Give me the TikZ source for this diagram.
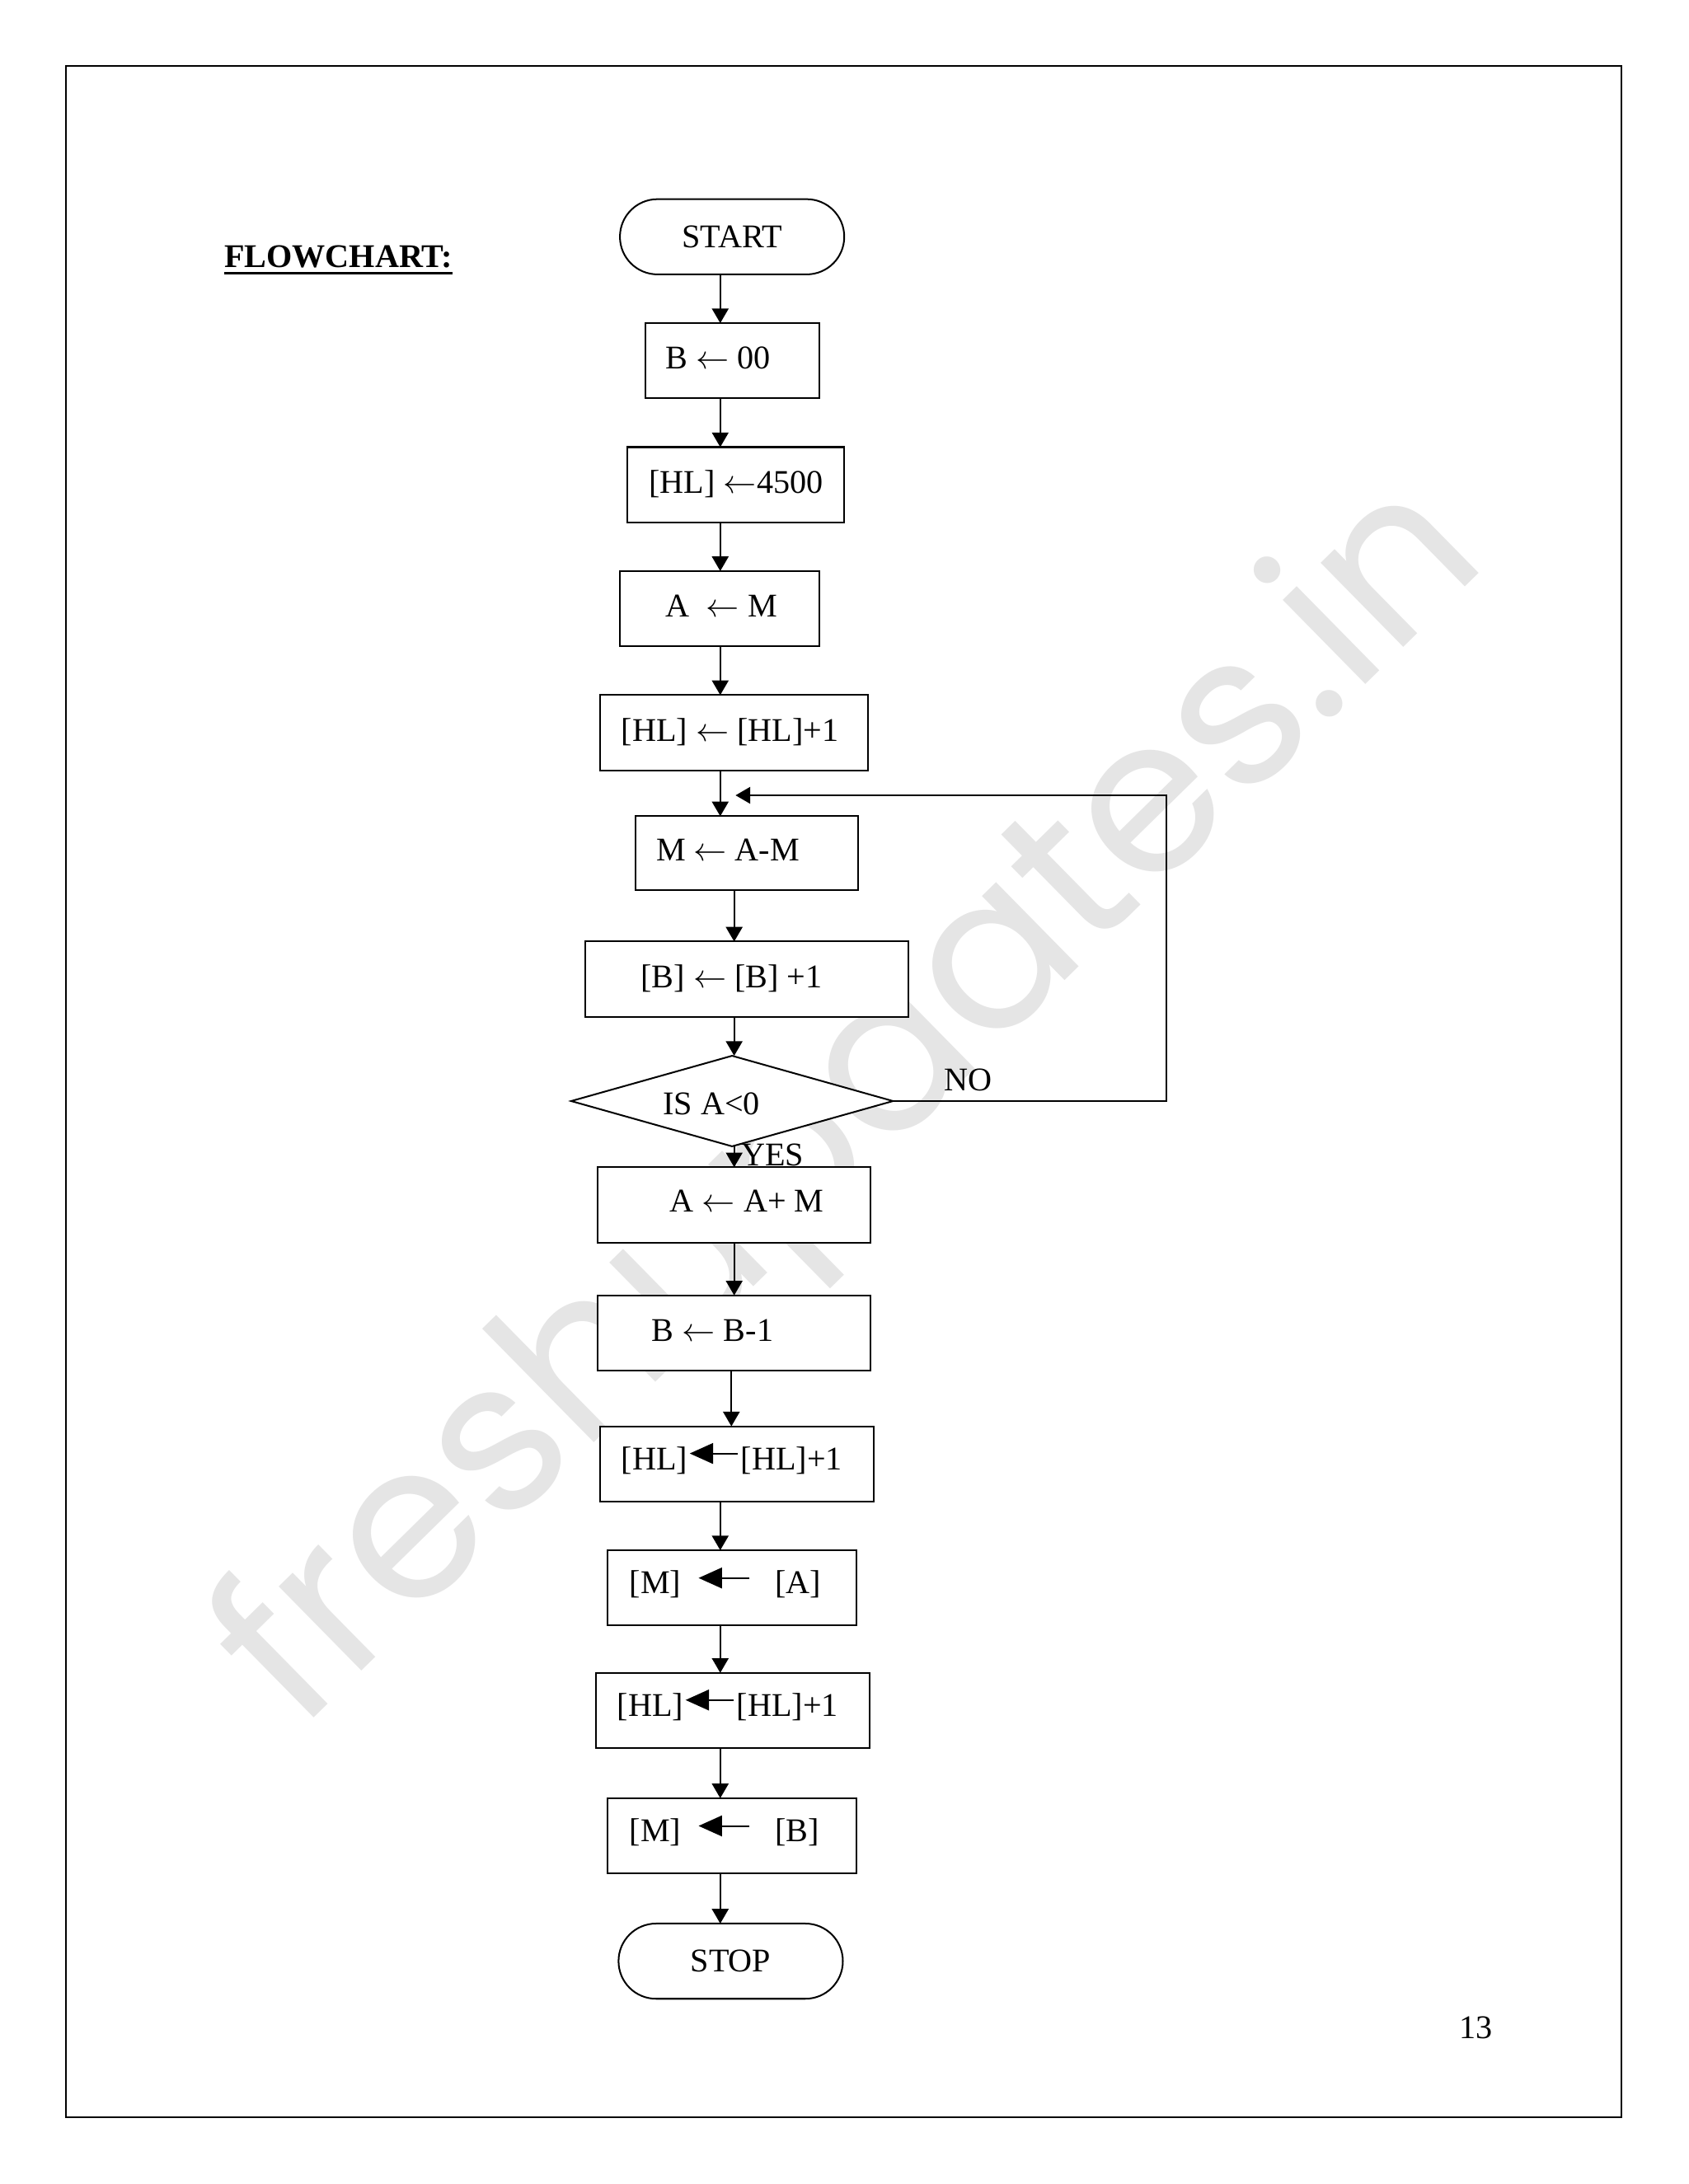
\documentclass[tikz,border=0pt]{standalone}
\usepackage{fontspec}
\setmainfont{Liberation Serif}
\newfontfamily\wmfont{Poppins}
\usetikzlibrary{arrows.meta,shapes.geometric}

\newcommand{\fatarr}[4]{\hspace{#1}\tikz[baseline=0pt]{\draw[line width=0.6pt,-{Triangle[length=8.5pt,width=7.5pt]}] (#2,#4) -- (0pt,#4);}\hspace{#3}}
\newcommand{\thickul}[1]{\begingroup\setbox0\hbox{#1}\rlap{\rule[-2.4pt]{\wd0}{0.85pt}}\box0\endgroup}
\newcommand{\bx}[5]{\node[box, minimum width={(#4-#2)*0.50495pt}, minimum height={(#5-#3)*0.50495pt}] (#1) at ({(#2+#4)/2},{(#3+#5)/2}) {};}

\begin{document}
\begin{tikzpicture}[x=0.50495pt,y=-0.50495pt,
  font=\fontsize{12}{14}\selectfont, line width=0.6pt,
  box/.style={draw, fill=white, inner sep=0pt, outer sep=0pt},
  term/.style={box, rounded corners=13.6pt},
  arr/.style={-{Triangle[length=5.3pt,width=6pt]}},
  txt/.style={anchor=base west, inner sep=0pt, outer sep=0pt}]

\fill[white] (0,0) rectangle (1212,1568);
\useasboundingbox (0,0) rectangle (1212,1568);

% page frame
\node[draw, line width=0.6pt, inner sep=0pt, outer sep=0pt,
  minimum width={1116.5*0.50495pt}, minimum height={1472.5*0.50495pt}] (frame) at (605.75,783.75) {};

% watermark
\node[rotate=44.5, text=black!10, inner sep=0pt, font=\wmfont\fontsize{78}{78}\selectfont] (wm) at (615,796) {freshupdates.in};

% title and page number
\node[txt, font=\bfseries\fontsize{12}{14}\selectfont] (title) at (161,192) {\thickul{FLOWCHART:}};
\node[txt] (pagenum) at (1047.5,1463.5) {13};

% shapes
\node[term, minimum width={161*0.50495pt}, minimum height={54*0.50495pt}] (start) at (525.5,170) {START};
\bx{b00}{463}{232}{588}{286}
\bx{hl}{450}{321}{606}{375}
\bx{am}{445}{410}{588}{464}
\bx{hlinc}{431}{499}{623}{553}
\bx{mam}{456}{586}{616}{639}
\bx{binc}{420}{676}{652}{730}
\node[draw, fill=white, diamond, inner sep=0pt, outer sep=0pt,
  minimum width={231*0.50495pt}, minimum height={65*0.50495pt}] (dia) at (525.5,790.5) {};
\bx{aam}{429}{838}{625}{892}
\bx{bdec}{429}{930}{625}{984}
\bx{hlb}{431}{1024}{627}{1078}
\bx{ma}{436}{1113}{615}{1167}
\bx{hlc}{428}{1201}{624}{1255}
\bx{mb}{436}{1291}{615}{1345}
\node[term, minimum width={161*0.50495pt}, minimum height={54*0.50495pt}] (stop) at (524.5,1408) {STOP};

% texts
\node[txt] (tb00) at (478,265) {B $\leftarrow$ 00};
\node[txt] (thl) at (466,354) {[HL] $\leftarrow$4500};
\node[txt] (tam) at (478,443) {A\ \ $\leftarrow$ M};
\node[txt] (thlinc) at (446,532) {[HL] $\leftarrow$ [HL]+1};
\node[txt] (tmam) at (471,618) {M $\leftarrow$ A-M};
\node[txt] (tbinc) at (460,709) {[B] $\leftarrow$ [B] +1};
\node[txt] (tdia) at (476,800) {IS A<0};
\node[txt] (tno) at (678,783) {NO};
\node[txt] (tyes) at (532,837) {YES};
\node[txt] (taam) at (481,870) {A $\leftarrow$ A+ M};
\node[txt] (tbdec) at (468,963) {B $\leftarrow$ B-1};
\node[txt] (thlb) at (446,1055) {[HL]\fatarr{0.5pt}{17.5pt}{0.8pt}{5.8pt}[HL]+1};
\node[txt] (tma) at (452,1144) {[M]\fatarr{6pt}{18.5pt}{9pt}{5.6pt}[A]};
\node[txt] (thlc) at (443,1232) {[HL]\fatarr{0.5pt}{17.5pt}{0.8pt}{5.8pt}[HL]+1};
\node[txt] (tmb) at (452,1322) {[M]\fatarr{6pt}{18.5pt}{9pt}{5.6pt}[B]};

% connector x positions
\coordinate (xa) at (517,0);
\coordinate (xb) at (527,0);
\coordinate (xc) at (525,0);

\draw[arr] (start.south -| xa) -- (b00.north -| xa);
\draw[arr] (b00.south -| xa) -- (hl.north -| xa);
\draw[arr] (hl.south -| xa) -- (am.north -| xa);
\draw[arr] (am.south -| xa) -- (hlinc.north -| xa);
\draw[arr] (hlinc.south -| xa) -- (mam.north -| xa);
\draw[arr] (mam.south -| xb) -- (binc.north -| xb);
\draw[arr] (binc.south -| xb) -- (dia.north -| xb);
\draw[arr] (dia.south -| xb) -- (aam.north -| xb);
\draw[arr] (aam.south -| xb) -- (bdec.north -| xb);
\draw[arr] (bdec.south -| xc) -- (hlb.north -| xc);
\draw[arr] (hlb.south -| xa) -- (ma.north -| xa);
\draw[arr] (ma.south -| xa) -- (hlc.north -| xa);
\draw[arr] (hlc.south -| xa) -- (mb.north -| xa);
\draw[arr] (mb.south -| xa) -- (stop.north -| xa);

% loop back (NO)
\coordinate (loopc) at (837,571);
\coordinate (loopt) at (528,571);
\draw[arr] (dia.east) -| (loopc) -- (loopt);

\end{tikzpicture}
\end{document}
